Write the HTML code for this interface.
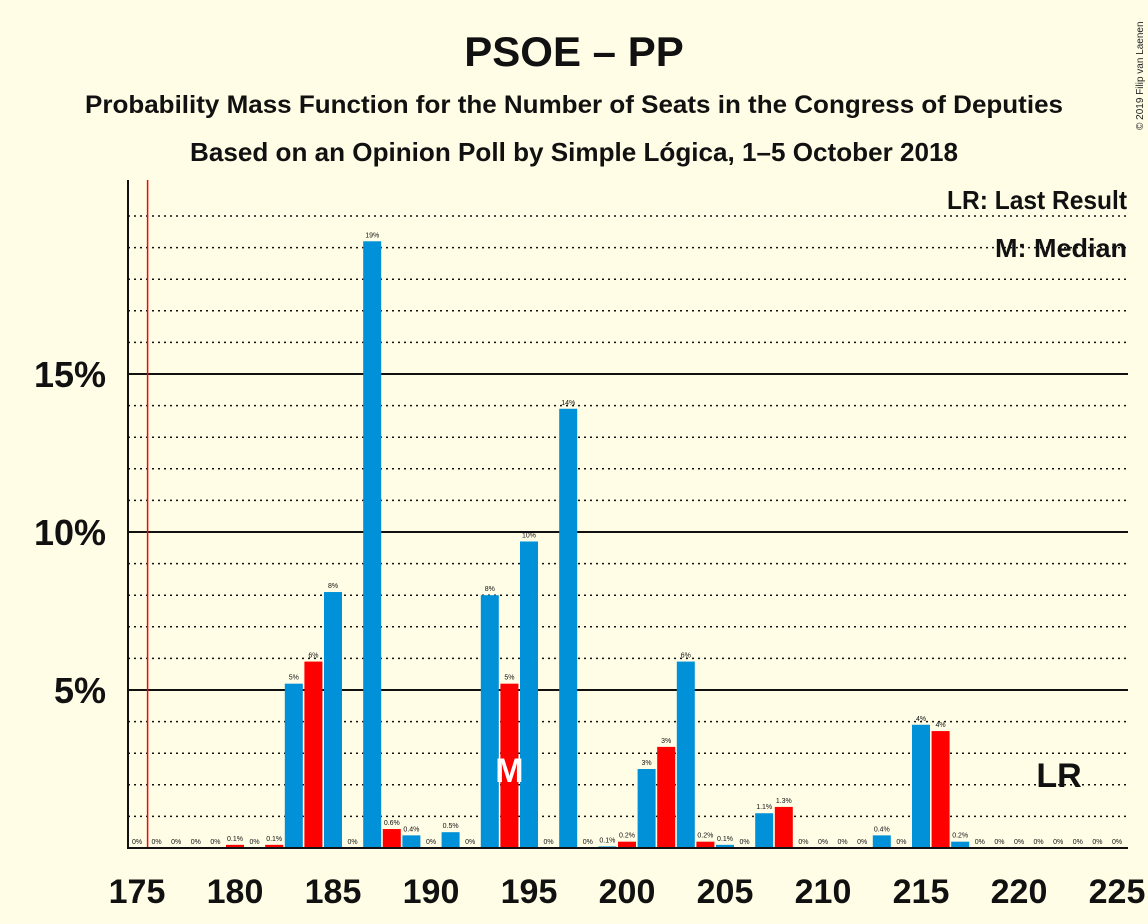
<!DOCTYPE html>
<html><head><meta charset="utf-8"><style>
body{margin:0;background:#FFFDE6;}
svg{display:block;font-family:"Liberation Sans",sans-serif;}
</style></head><body>
<svg id="chart" width="1148" height="924" viewBox="0 0 1148 924">
<rect width="1148" height="924" fill="#FFFDE6"/>
<text x="574" y="66" text-anchor="middle" font-size="42" font-weight="bold" fill="#111">PSOE – PP</text>
<text x="574" y="113" text-anchor="middle" font-size="25" font-weight="bold" fill="#111" textLength="978" lengthAdjust="spacingAndGlyphs">Probability Mass Function for the Number of Seats in the Congress of Deputies</text>
<text x="574" y="161" text-anchor="middle" font-size="26" font-weight="bold" fill="#111" textLength="768" lengthAdjust="spacingAndGlyphs">Based on an Opinion Poll by Simple Lógica, 1–5 October 2018</text>
<text x="1143" y="130" font-size="10" fill="#222" transform="rotate(-90 1143 130)">© 2019 Filip van Laenen</text>
<g id="grid"></g>
<g id="bars"></g>
<g id="axes"></g>
<text x="1127" y="209" text-anchor="end" font-size="26" font-weight="bold" fill="#111" textLength="180" lengthAdjust="spacingAndGlyphs">LR: Last Result</text>
<text x="1127" y="257" text-anchor="end" font-size="26" font-weight="bold" fill="#111" textLength="132" lengthAdjust="spacingAndGlyphs">M: Median</text>
</svg>
<script>
const seats=[175,176,177,178,179,180,181,182,183,184,185,186,187,188,189,190,191,192,193,194,195,196,197,198,199,200,201,202,203,204,205,206,207,208,209,210,211,212,213,214,215,216,217,218,219,220,221,222,223,224,225];
const probs=[0,0,0,0,0,0.1,0,0.1,5.2,5.9,8.1,0,19.2,0.6,0.4,0,0.5,0,8.0,5.2,9.7,0,13.9,0,0.05,0.2,2.5,3.2,5.9,0.2,0.1,0,1.1,1.3,0,0,0,0,0.4,0,3.9,3.7,0.2,0,0,0,0,0,0,0,0];
const labels=["0%","0%","0%","0%","0%","0.1%","0%","0.1%","5%","6%","8%","0%","19%","0.6%","0.4%","0%","0.5%","0%","8%","5%","10%","0%","14%","0%","0.1%","0.2%","3%","3%","6%","0.2%","0.1%","0%","1.1%","1.3%","0%","0%","0%","0%","0.4%","0%","4%","4%","0.2%","0%","0%","0%","0%","0%","0%","0%","0%"];
const xTicks=[175,180,185,190,195,200,205,210,215,220,225];
const yTicks=[5,10,15];
const median=194, lastResult=176;
const NS="http://www.w3.org/2000/svg";
const X=s=>137+(s-175)*19.6;
const Y=p=>848-p*31.6;
function mk(tag,attrs,parent,txt){const e=document.createElementNS(NS,tag);for(const k in attrs)e.setAttribute(k,attrs[k]);if(txt!==undefined)e.textContent=txt;parent.appendChild(e);return e;}
const grid=document.getElementById('grid'),bars=document.getElementById('bars'),axes=document.getElementById('axes');
for(let p=1;p<=20;p++){
  const solid=yTicks.includes(p);
  const l=mk('line',{x1:128,x2:1128,y1:Y(p),y2:Y(p),stroke:'#111','stroke-width':solid?2:1.5,'stroke-dasharray':solid?'none':'2,4'},grid);
  
  
}
yTicks.forEach(p=>{
  const t=mk('text',{x:106,y:Y(p)+13,'text-anchor':'end','font-size':36,'font-weight':'bold',fill:'#111'},axes,p+'%');
  
  
});
seats.forEach((s,i)=>{
  const p=probs[i];
  const color=s%2?'#0091D8':'#FF0000';
  if(p>0){
    const r=mk('rect',{x:X(s)-9,y:Y(p),width:18,height:848-Y(p),fill:color},bars);
    
    
  }
  const t=mk('text',{x:X(s),y:Y(p)-4,'text-anchor':'middle','font-size':7,fill:'#111'},bars,labels[i]);
  
  
});
const m=mk('text',{x:X(median),y:782,'text-anchor':'middle','font-size':34,'font-weight':'bold',fill:'#fff'},bars,'M');


const lr=mk('line',{x1:X(lastResult)-9,x2:X(lastResult)-9,y1:180,y2:848,stroke:'#FF0000','stroke-width':1.5},axes);


const lrt=mk('text',{x:1059,y:787,'text-anchor':'middle','font-size':34,'font-weight':'bold',fill:'#111'},axes,'LR');


const ya=mk('line',{x1:128,x2:128,y1:180,y2:849,stroke:'#111','stroke-width':2},axes);


const xa=mk('line',{x1:127,x2:1128,y1:848,y2:848,stroke:'#111','stroke-width':2},axes);


xTicks.forEach(s=>{
  const t=mk('text',{x:X(s),y:903,'text-anchor':'middle','font-size':34,'font-weight':'bold',fill:'#111'},axes,String(s));
  
  
});
</script>
</body></html>
